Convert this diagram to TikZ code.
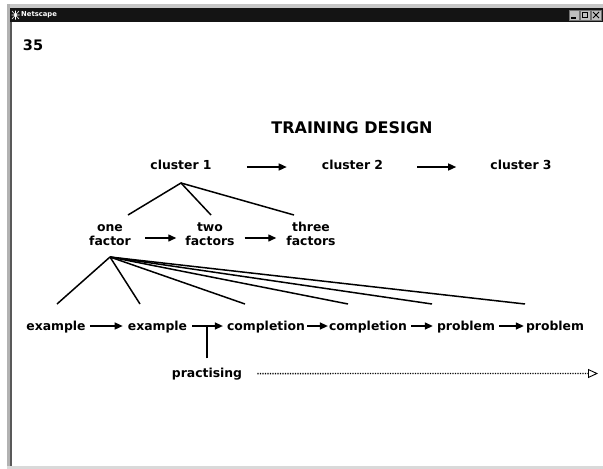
\documentclass[tikz,border=0pt]{standalone}
\usepackage{fontspec}
\setmainfont{DejaVu Sans}
\usetikzlibrary{arrows.meta,calc}
\tikzset{
  lbl/.style={font=\bfseries\fontsize{12.4}{14}\selectfont, inner sep=0pt, anchor=base},
  two/.style={font=\bfseries\fontsize{12.4}{14}\selectfont, inner sep=0pt, align=center, anchor=south},
  arr/.style={line width=1.4pt, -{Triangle[length=8pt,width=7pt]}},
  fan/.style={line width=1.5pt},
  btn/.style={fill=black!25, draw=black!55, line width=0.4pt},
}
\begin{document}
\begin{tikzpicture}[x=1pt,y=-1pt]
\useasboundingbox (0,0) rectangle (603,469);
% window chrome
\fill[white] (0,0) rectangle (603,469);
\fill[black!22] (7,4) rectangle (603,8);
\fill[black!92] (9,8) rectangle (603,22);
\fill[black!30] (7,4) rectangle (10,469);
\fill[black!65] (10,22) rectangle (12,466);
\fill[black!15] (7,466) rectangle (603,469);
% window buttons
\draw[btn] (569,10) rectangle (579,20);
\draw[btn] (580,10) rectangle (590,20);
\draw[btn] (591,10) rectangle (601,20);
\draw[line width=1.3pt] (571,18) -- (576,18);
\draw[line width=0.8pt] (582.5,12.5) rectangle (587.5,17.5);
\draw[line width=1pt] (593,12) -- (599,18) (593,18) -- (599,12);
% icon and title
\draw[white, line width=0.6pt] (12,11) -- (19,19) (12,19) -- (19,11) (15.5,10.5) -- (15.5,19.5) (11.5,15) -- (19.5,15);
\node[anchor=west, text=white, inner sep=0pt, font=\bfseries\fontsize{6.8}{7}\selectfont] (ttl) at (21,15) {Netscape};
% slide number and title
\node[lbl, font=\bfseries\fontsize{14.5}{16}\selectfont] (num) at (33,50) {35};
\node[lbl, font=\bfseries\fontsize{16}{18}\selectfont] (title) at (352,133) {TRAINING DESIGN};
% clusters
\node[lbl] (c1) at (181,169) {cluster 1};
\node[lbl] (c2) at (352.5,169) {cluster 2};
\node[lbl] (c3) at (521,169) {cluster 3};
\draw[arr, shorten <=35pt, shorten >=35pt] ([yshift=2pt]c1.base east) -- ([yshift=2pt]c2.base west);
\draw[arr, shorten <=34pt, shorten >=34pt] ([yshift=2pt]c2.base east) -- ([yshift=2pt]c3.base west);
% factors
\node[two] (f1) at (110,246) {one\\factor};
\node[two] (f2) at (210,246) {two\\factors};
\node[two] (f3) at (311,246) {three\\factors};
\draw[arr, shorten <=14pt, shorten >=9pt] ([yshift=8pt]f1.south east) -- ([yshift=8pt]f2.south west);
\draw[arr, shorten <=10pt, shorten >=10pt] ([yshift=8pt]f2.south east) -- ([yshift=8pt]f3.south west);
\draw[fan] ([xshift=18pt,yshift=31pt]f1.south) -- ([yshift=-14pt]c1.base) -- ([xshift=1pt,yshift=31pt]f2.south);
\draw[fan] ([yshift=-14pt]c1.base) -- ([xshift=-17pt,yshift=31pt]f3.south);
% worked examples row
\node[lbl] (e1) at (56,330) {example};
\node[lbl] (e2) at (157.5,330) {example};
\node[lbl] (k1) at (266,330) {completion};
\node[lbl] (k2) at (368,330) {completion};
\node[lbl] (p1) at (466,330) {problem};
\node[lbl] (p2) at (555,330) {problem};
\draw[arr, shorten <=4pt, shorten >=5pt] ([yshift=4pt]e1.base east) -- ([yshift=4pt]e2.base west);
\draw[arr, shorten <=5pt, shorten >=4pt] ([yshift=4pt]e2.base east) -- ([yshift=4pt]k1.base west);
\draw[arr, shorten <=2pt, shorten >=1pt] ([yshift=4pt]k1.base east) -- ([yshift=4pt]k2.base west);
\draw[arr, shorten <=4pt, shorten >=4pt] ([yshift=4pt]k2.base east) -- ([yshift=4pt]p1.base west);
\draw[arr, shorten <=4pt, shorten >=2pt] ([yshift=4pt]p1.base east) -- ([yshift=4pt]p2.base west);
% fan from one factor
\coordinate (apex) at ([yshift=-11pt]f1.south);
\draw[fan] (apex) -- ([xshift=1pt,yshift=26pt]e1.base);
\draw[fan] (apex) -- ([xshift=-17.5pt,yshift=26pt]e2.base);
\draw[fan] (apex) -- ([xshift=-21pt,yshift=26pt]k1.base);
\draw[fan] (apex) -- ([xshift=-20pt,yshift=26pt]k2.base);
\draw[fan] (apex) -- ([xshift=-34pt,yshift=26pt]p1.base);
\draw[fan] (apex) -- ([xshift=-30pt,yshift=26pt]p2.base);
% practising
\node[lbl] (pr) at (207,377) {practising};
\draw[line width=1.4pt] ([yshift=9pt]pr.north) -- ($(pr.north |- e2.base)+(0,4pt)$);
\coordinate (dend) at (598,373.5);
\draw[line width=1.3pt, dash pattern=on 1.3pt off 1.2pt, shorten <=15pt] (pr.east) -- ([xshift=-10pt]dend);
\draw[line width=0.9pt, -{Triangle[open,length=10pt,width=9pt]}] ([xshift=-10.5pt]dend) -- (dend);
\end{tikzpicture}
\end{document}
